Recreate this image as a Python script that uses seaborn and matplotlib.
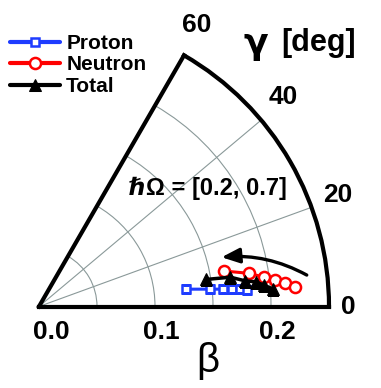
import numpy as np
import matplotlib
matplotlib.use("Agg")
import matplotlib.pyplot as plt
import seaborn as sns

# ---- data ----
proton_beta = [0.128, 0.148, 0.159, 0.167, 0.174, 0.180]
proton_gamma = [6.7, 5.8, 5.4, 5.1, 4.9, 4.4]
neutron_beta = [0.162, 0.183, 0.196, 0.205, 0.213, 0.221]
neutron_gamma = [10.9, 9.0, 7.4, 6.4, 5.4, 4.4]
total_beta = [0.146, 0.167, 0.179, 0.188, 0.195, 0.202]
total_gamma = [9.2, 8.7, 7.1, 6.5, 5.4, 4.3]
series_names = ["Proton", "Neutron", "Total"]
gamma_ticks = [0, 20, 40, 60]
beta_ticks = [0.0, 0.1, 0.2]
beta_grid = [0.05, 0.10, 0.15, 0.20]
annotation = "ℏΩ = [0.2, 0.7]"

sns.set_theme(style="white")
plt.rcParams["font.family"] = ["Liberation Sans", "DejaVu Sans"]
plt.rcParams["text.color"] = "black"

W, H = 381, 388
fig = plt.figure(figsize=(W / 100, H / 100), dpi=100)
ox, oy, R = 39, 306.5, 290
side = R
ax = fig.add_axes([ox / W, (H - oy - 0.067 * side) / H, side / W, side / H], projection="polar")
ax.set_thetamin(0)
ax.set_thetamax(60)
ax.set_rlim(0, 0.25)
ax.set_facecolor("white")

grid_c = "#8a9999"
ax.set_xticks(np.radians([20, 40]))
ax.set_xticklabels([])
ax.set_yticks(beta_grid)
ax.set_yticklabels([])
ax.grid(True, color=grid_c, lw=0.8)
ax.tick_params(length=0)
for s in ax.spines.values():
    s.set_color("black")
    s.set_linewidth(3)

blue = "#1e3cff"
red = "#ff0000"
sns.lineplot(x=np.radians(proton_gamma), y=proton_beta, ax=ax, sort=False, color=blue, lw=2.2,
             marker="s", markersize=6, markerfacecolor="white", markeredgecolor=blue,
             markeredgewidth=1.8, label=series_names[0], zorder=3)
sns.lineplot(x=np.radians(neutron_gamma), y=neutron_beta, ax=ax, sort=False, color=red, lw=2.2,
             marker="o", markersize=8, markerfacecolor="white", markeredgecolor=red,
             markeredgewidth=1.8, label=series_names[1], zorder=4)
sns.lineplot(x=np.radians(total_gamma), y=total_beta, ax=ax, sort=False, color="black", lw=2.5,
             marker="^", markersize=9, markerfacecolor="black", markeredgecolor="black",
             label=series_names[2], zorder=5)
ax.set_xlabel("")
ax.set_ylabel("")

# curved arrow
ax.annotate("", xy=(np.radians(15.1), 0.163), xytext=(np.radians(6.7), 0.2324),
            arrowprops=dict(arrowstyle="-|>,head_length=0.6,head_width=0.25", color="black",
                            lw=2.4, mutation_scale=18, connectionstyle="arc3,rad=0.15",
                            shrinkA=0, shrinkB=0))

# theta tick labels
lab_pos = {0: (0.0, 0.267), 20: (20.4, 0.275), 40: (40.6, 0.277), 60: (60.7, 0.278)}
for g in gamma_ticks:
    th, rr = lab_pos[g]
    ax.text(np.radians(th), rr, str(g), ha="center", va="center", fontsize=19,
            fontweight="bold", clip_on=False, color="black")

# beta tick labels
offs = {0.0: 12, 0.1: 6, 0.2: 6}
for b in beta_ticks:
    ax.annotate(f"{b:.1f}", xy=(0, b), xytext=(offs[b], -25), textcoords="offset pixels",
                ha="center", va="center", fontsize=19, fontweight="bold",
                annotation_clip=False, color="black")

fig.text(208 / W, 1 - 361 / H, "β", ha="center", va="center", fontsize=29, color="black")
fig.text(256 / W, 1 - 44 / H, "γ", ha="center", va="center", fontsize=26, fontweight="bold",
         family=["DejaVu Sans"], color="black")
fig.text(319 / W, 1 - 43 / H, "[deg]", ha="center", va="center", fontsize=22,
         fontweight="bold", color="black")

fig.text(208 / W, 1 - 188 / H, annotation, ha="center", va="center", fontsize=17,
         fontweight="bold", family=["Liberation Sans", "DejaVu Sans"], color="black")

leg = ax.legend(loc="upper left", bbox_to_anchor=(10 / W, 1 - 34 / H),
                bbox_transform=fig.transFigure, frameon=False, borderpad=0, borderaxespad=0,
                handlelength=2.4, handletextpad=0.3, labelspacing=0.12,
                prop=dict(weight="bold", size=15))
for t in leg.get_texts():
    t.set_color("black")
for ln in leg.get_lines():
    ln.set_linewidth(3)

fig.savefig("out.png", dpi=100)
